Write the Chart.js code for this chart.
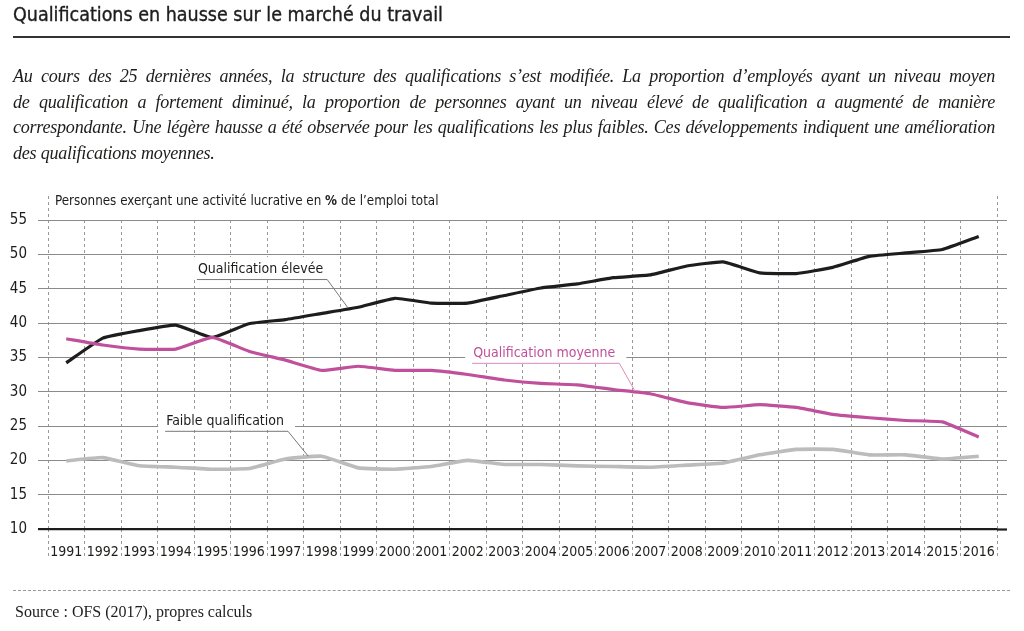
<!DOCTYPE html>
<html>
<head>
<meta charset="utf-8">
<script src="https://cdn.jsdelivr.net/npm/chart.js@4/dist/chart.umd.min.js"></script>
<style>
  html, body { margin: 0; padding: 0; background: #fff; }
  body { width: 1024px; height: 631px; position: relative; overflow: hidden; }
  .cond { font-family: "DejaVu Sans Condensed", "Liberation Sans Narrow", "Roboto", sans-serif; }
  #title { position: absolute; left: 13px; top: 3px; font-size: 19.5px; color: #1d1d1b; -webkit-text-stroke: 0.35px #1d1d1b; }
  #rule { position: absolute; left: 13px; top: 36px; width: 997px; height: 0; border-top: 2px solid #333; }
  #intro { position: absolute; left: 13px; top: 64px; width: 982px; font-family: "Liberation Serif", "DejaVu Serif", serif; font-style: italic; font-size: 18.1px; letter-spacing: -0.25px; line-height: 25.5px; color: #1d1d1b; }
  #intro div { white-space: nowrap; }
  #intro .j { text-align: justify; text-align-last: justify; }
  #caption { position: absolute; left: 55px; top: 193px; font-size: 13.3px; color: #1d1d1b; }
  #srcline { position: absolute; left: 13px; top: 590px; width: 997px; border-top: 1px dashed #999; }
  #source { position: absolute; left: 15px; top: 603px; font-family: "Liberation Serif", "DejaVu Serif", serif; font-size: 16px; color: #1d1d1b; }
  #wrap { position: absolute; left: 0; top: 0; width: 1024px; height: 631px; }
</style>
</head>
<body>
<div id="wrap"><canvas id="chart"></canvas></div>
<div id="title" class="cond">Qualifications en hausse sur le marché du travail</div>
<div id="rule"></div>
<div id="intro">
  <div class="j">Au cours des 25 dernières années, la structure des qualifications s’est modifiée. La proportion d’employés ayant un niveau moyen</div>
  <div class="j">de qualification a fortement diminué, la proportion de personnes ayant un niveau élevé de qualification a augmenté de manière</div>
  <div class="j">correspondante. Une légère hausse a été observée pour les qualifications les plus faibles. Ces développements indiquent une amélioration</div>
  <div>des qualifications moyennes.</div>
</div>
<div id="caption" class="cond">Personnes exerçant une activité lucrative en <b>%</b> de l’emploi total</div>
<div id="srcline"></div>
<div id="source">Source : OFS (2017), propres calculs</div>

<script>
// years on the x axis
const years = ['1991','1992','1993','1994','1995','1996','1997','1998','1999','2000','2001','2002','2003',
               '2004','2005','2006','2007','2008','2009','2010','2011','2012','2013','2014','2015','2016'];

// share of employment, in %
const qualifElevee = [34.2, 37.8, 38.9, 39.7, 37.9, 39.9, 40.5, 41.4, 42.3, 43.6, 42.9, 42.9, 44.0,
                      45.1, 45.7, 46.6, 47.0, 48.3, 48.9, 47.3, 47.2, 48.1, 49.7, 50.2, 50.7, 52.6];
const qualifMoyenne = [37.7, 36.8, 36.2, 36.2, 37.9, 35.9, 34.6, 33.1, 33.7, 33.1, 33.1, 32.5, 31.7,
                       31.2, 31.0, 30.3, 29.7, 28.4, 27.7, 28.1, 27.7, 26.7, 26.2, 25.8, 25.6, 23.4];
const qualifFaible = [19.9, 20.4, 19.2, 19.0, 18.7, 18.8, 20.2, 20.6, 18.9, 18.7, 19.1, 20.0, 19.4,
                      19.4, 19.2, 19.1, 19.0, 19.3, 19.6, 20.8, 21.6, 21.6, 20.8, 20.8, 20.2, 20.6];

// y axis
const yMin = 10, yMax = 55, yStep = 5;

const FONT = '"DejaVu Sans Condensed", "Liberation Sans Narrow", Roboto, sans-serif';
const BLACK = '#1d1d1b', PINK = '#c0509b', GREY = '#bcbcbc';

// annotation labels: text, colour, left end of underline (index, value), tip of leader (index, value)
const labels = [
  { text: 'Qualification élevée',  color: BLACK, at: [3.58, 46.4], tip: [7.72, 42.2] },
  { text: 'Qualification moyenne', color: PINK,  at: [11.12, 34.2], tip: [15.58, 30.1] },
  { text: 'Faible qualification',  color: BLACK, at: [2.71, 24.3], tip: [6.63, 20.6] }
];

const annotate = {
  id: 'annotate',
  afterDraw(chart) {
    const ctx = chart.ctx, x = chart.scales.x, y = chart.scales.y, a = chart.chartArea;
    ctx.save();
    // frame edges reach a bit above the top gridline
    ctx.strokeStyle = '#999';
    ctx.lineWidth = 1;
    ctx.setLineDash([3, 3]);
    [a.left, a.right].forEach(px => {
      ctx.beginPath();
      ctx.moveTo(Math.round(px) + 0.5, a.top - 24);
      ctx.lineTo(Math.round(px) + 0.5, a.top);
      ctx.stroke();
    });
    ctx.setLineDash([]);
    ctx.font = '14px ' + FONT;
    ctx.textBaseline = 'alphabetic';
    labels.forEach(l => {
      const x0 = x.getPixelForValue(l.at[0]);
      const y0 = y.getPixelForValue(l.at[1]);
      const w = ctx.measureText(l.text).width;
      const x1 = x0 + w + 5;
      ctx.fillStyle = '#fff';
      ctx.fillRect(x0 - 7, y0 - 22, w + 19, 21);
      ctx.fillStyle = l.color;
      ctx.fillText(l.text, x0 + 1, y0 - 6);
      ctx.strokeStyle = l.color === PINK ? '#d98bc0' : '#777';
      ctx.lineWidth = 1;
      ctx.beginPath();
      ctx.moveTo(x0, y0 + 0.5);
      ctx.lineTo(x1, y0 + 0.5);
      ctx.lineTo(x.getPixelForValue(l.tip[0]), y.getPixelForValue(l.tip[1]));
      ctx.stroke();
    });
    ctx.restore();
  }
};

const line = (data, color, width) => ({
  data, borderColor: color, borderWidth: width, pointRadius: 0, tension: 0.12,
  borderCapStyle: 'butt', borderJoinStyle: 'round', fill: false
});

new Chart(document.getElementById('chart'), {
  type: 'line',
  data: {
    labels: years,
    datasets: [line(qualifFaible, GREY, 3.6), line(qualifMoyenne, PINK, 3.2), line(qualifElevee, BLACK, 3.2)]
  },
  plugins: [annotate],
  options: {
    responsive: true,
    maintainAspectRatio: false,
    animation: false,
    layout: { padding: { top: 220, left: 0, right: 0, bottom: 0 } },
    plugins: { legend: { display: false }, tooltip: { enabled: false } },
    scales: {
      x: {
        offset: true,
        afterFit: s => { s.height = 102; },
        border: { display: false, dash: [3, 3] },
        grid: { color: '#999', lineWidth: 1, offset: true, tickLength: 29, tickBorderDash: [3, 3], tickColor: '#999' },
        ticks: { color: BLACK, font: { family: FONT, size: 14 }, padding: -14, maxRotation: 0, autoSkip: false }
      },
      y: {
        min: yMin, max: yMax,
        afterFit: s => { s.width = 48; },
        border: { display: false },
        grid: {
          color: c => c.tick && c.tick.value === yMin ? BLACK : '#8a8a8a',
          lineWidth: c => c.tick && c.tick.value === yMin ? 2.2 : 1,
          tickLength: 10
        },
        ticks: { stepSize: yStep, color: BLACK, font: { family: FONT, size: 15 }, padding: 11 }
      },
      y2: {
        position: 'right',
        min: yMin, max: yMax,
        afterFit: s => { s.width = 27; },
        border: { display: false },
        grid: {
          drawOnChartArea: false,
          tickLength: 10,
          tickColor: c => c.tick && c.tick.value === yMin ? BLACK : '#8a8a8a',
          tickWidth: c => c.tick && c.tick.value === yMin ? 2.2 : 1
        },
        ticks: { stepSize: yStep, display: false }
      }
    }
  }
});
</script>
</body>
</html>
